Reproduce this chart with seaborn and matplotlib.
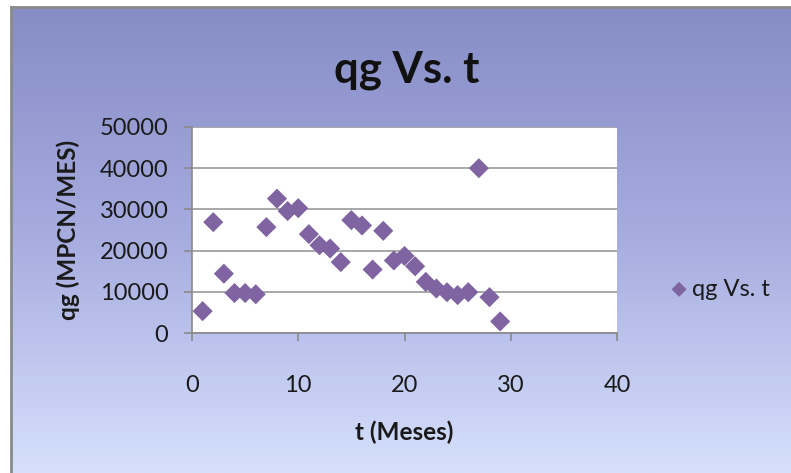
import numpy as np
import pandas as pd
import matplotlib
matplotlib.use("Agg")
import matplotlib.pyplot as plt
import seaborn as sns
from matplotlib.colors import LinearSegmentedColormap

# Monthly gas rate data
t_meses = [1, 2, 3, 4, 5, 6, 7, 8, 9, 10, 11, 12, 13, 14, 15,
           16, 17, 18, 19, 20, 21, 22, 23, 24, 25, 26, 27, 28, 29]
qg = [5300, 26900, 14400, 9700, 9700, 9400, 25700, 32600, 29600, 30300,
      24000, 21300, 20500, 17200, 27400, 26100, 15400, 24800, 17600, 18700,
      16200, 12400, 10800, 9900, 9200, 9900, 40000, 8700, 2800]
x_ticks = [0, 10, 20, 30, 40]
y_ticks = [0, 10000, 20000, 30000, 40000, 50000]
series_name = "qg Vs. t"

df = pd.DataFrame({"t": t_meses, "qg": qg})

sns.set_theme(style="white")
plt.rcParams["font.family"] = ["Lato", "DejaVu Sans"]

W, H = 791, 473
fig = plt.figure(figsize=(W / 100, H / 100), dpi=100)
fig.patch.set_facecolor("white")

# Chart-area background with vertical gradient
bg = fig.add_axes([11 / W, 0, 1 - 11 / W, 1 - 7 / H], zorder=0)
cmap = LinearSegmentedColormap.from_list("bg", ["#868cc6", "#a7addf", "#d6e0fd"])
grad = np.linspace(0, 1, 256).reshape(-1, 1)
bg.imshow(grad, aspect="auto", cmap=cmap, extent=[0, 1, 0, 1], origin="upper")
bg.set_xticks([])
bg.set_yticks([])
for side in ["right", "bottom"]:
    bg.spines[side].set_visible(False)
for side in ["left", "top"]:
    bg.spines[side].set_color("#8a8a8a")
    bg.spines[side].set_linewidth(2)

# Plot area
ax = fig.add_axes([192 / W, 1 - 333 / H, (617 - 192) / W, (333 - 127) / H], zorder=1)
ax.set_facecolor("white")
sns.scatterplot(data=df, x="t", y="qg", ax=ax, marker="D", s=105,
                color="#8064a2", edgecolor="none", linewidth=0,
                label=series_name, zorder=3, clip_on=False)

ax.set_xlim(0, 40)
ax.set_ylim(0, 50000)
ax.set_xticks(x_ticks)
ax.set_yticks(y_ticks)
ax.set_xticklabels([str(v) for v in x_ticks])
ax.set_yticklabels([str(v) for v in y_ticks])
ax.yaxis.grid(True, color="#9a9a9a", linewidth=1.2)
ax.set_axisbelow(True)
for side in ["top", "right"]:
    ax.spines[side].set_visible(False)
for side in ["left", "bottom"]:
    ax.spines[side].set_color("#8a8a8a")
    ax.spines[side].set_linewidth(1.2)
ax.tick_params(axis="both", which="both", direction="out", length=6, width=1.2,
               color="#8a8a8a", labelsize=17, labelcolor="#1a1a1a",
               left=True, bottom=True)
ax.tick_params(axis="x", pad=24)
ax.tick_params(axis="y", pad=11)

ax.set_xlabel("t (Meses)", fontsize=17.5, fontweight="bold", color="#1a1a1a", labelpad=18)
ax.set_ylabel("qg (MPCN/MES)", fontsize=17.5, fontweight="bold", color="#1a1a1a", labelpad=14)

fig.text(407 / W, 1 - 70 / H, "qg Vs. t", ha="center", va="center",
         fontsize=31.5, fontweight="bold", color="#111111")

leg = ax.legend(loc="center left", bbox_to_anchor=(672 / W, 1 - 289 / H),
                bbox_transform=fig.transFigure, frameon=False, fontsize=17,
                handlelength=0.6, handletextpad=0.25, borderpad=0,
                borderaxespad=0, markerscale=0.75)
for txt in leg.get_texts():
    txt.set_color("#1a1a1a")

fig.savefig("out.png", dpi=100, facecolor=fig.get_facecolor())
